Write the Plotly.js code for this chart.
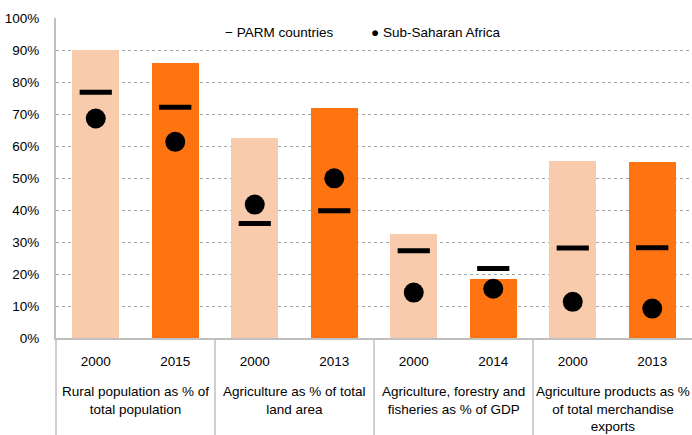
<!DOCTYPE html>
<html>
<head>
<meta charset="utf-8">
<script src="https://cdn.plot.ly/plotly-3.0.1.min.js"></script>
<style>html,body{margin:0;padding:0;background:#fff;}#chart{width:692px;height:435px;}</style>
</head>
<body>
<div id="chart"></div>
<script>
// ---- data ----
var years = ["2000", "2015", "2000", "2013", "2000", "2014", "2000", "2013"];
var groups = [
  "Rural population as % of<br>total population",
  "Agriculture as % of total<br>land area",
  "Agriculture, forestry and<br>fisheries as % of GDP",
  "Agriculture products as %<br>of total merchandise<br>exports"
];
var barValues = [0.90, 0.86, 0.625, 0.718, 0.325, 0.183, 0.553, 0.550];
var parmValues = [0.768, 0.721, 0.358, 0.398, 0.273, 0.217, 0.281, 0.282];
var ssaValues = [0.686, 0.613, 0.417, 0.499, 0.142, 0.154, 0.113, 0.092];
var legendLabels = ["PARM countries", "Sub-Saharan Africa"];

// ---- build ----
var xs = years.map(function (_, i) { return i; });
var light = "#F8CBAD", orange = "#FF7410";
var barColors = years.map(function (_, i) { return i % 2 === 0 ? light : orange; });
var FONT = "Liberation Sans, Arial, sans-serif";

var traces = [
  {
    type: "bar", x: xs, y: barValues, width: 0.586,
    marker: { color: barColors, line: { width: 0 } },
    showlegend: false, hoverinfo: "y"
  },
  {
    type: "scatter", mode: "markers", x: xs, y: parmValues, name: legendLabels[0],
    marker: { symbol: "line-ew", size: 23, color: "#000", line: { color: "#000", width: 5 } },
    showlegend: false
  },
  {
    type: "scatter", mode: "markers", x: xs, y: ssaValues, name: legendLabels[1],
    marker: { symbol: "circle", size: 20, color: "#000" },
    showlegend: false
  }
];

var shapes = [];
// group dividers below the axis
[1.5, 3.5, 5.5].forEach(function (v) {
  shapes.push({ type: "line", xref: "x", yref: "paper", x0: v, x1: v, y0: 0, y1: -0.32,
    line: { color: "#BFBFBF", width: 1.5 } });
});
shapes.push({ type: "line", xref: "paper", yref: "paper", x0: 0, x1: 0, y0: 0, y1: -0.32,
  line: { color: "#BFBFBF", width: 1.5 } });

var annotations = groups.map(function (g, k) {
  return { xref: "x", yref: "paper", x: 2 * k + 0.5, y: -0.137, yanchor: "top", xanchor: "center",
    text: g, showarrow: false, align: "center", font: { family: FONT, size: 13.5, color: "#000" } };
});
annotations.push({ xref: "paper", yref: "paper", x: 0.262, y: 0.955, xanchor: "left", yanchor: "middle",
  text: "\u2212 " + legendLabels[0], showarrow: false, font: { family: FONT, size: 13.5, color: "#000" } });
annotations.push({ xref: "paper", yref: "paper", x: 0.492, y: 0.955, xanchor: "left", yanchor: "middle",
  text: "\u25CF " + legendLabels[1], showarrow: false, font: { family: FONT, size: 13.5, color: "#000" } });

var layout = {
  width: 692, height: 435,
  margin: { l: 56, r: 0, t: 18, b: 97 },
  paper_bgcolor: "#fff", plot_bgcolor: "#fff",
  font: { family: FONT, size: 13.5, color: "#000" },
  showlegend: false,
  bargap: 0,
  xaxis: {
    range: [-0.5, 7.5], tickmode: "array", tickvals: xs, ticktext: years,
    showgrid: false, zeroline: false, showline: true, linecolor: "#BFBFBF", linewidth: 2,
    ticks: "", ticklabelstandoff: 10, fixedrange: true
  },
  yaxis: {
    range: [0, 1], dtick: 0.1, tick0: 0, tickformat: ".0%",
    showgrid: true, gridcolor: "#A6A6A6", griddash: "dot", gridwidth: 1,
    zeroline: false, showline: true, linecolor: "#BFBFBF", linewidth: 2,
    ticks: "", ticklabelstandoff: 12, fixedrange: true
  },
  shapes: shapes,
  annotations: annotations
};

Plotly.newPlot("chart", traces, layout, { displayModeBar: false, staticPlot: true });
</script>
</body>
</html>
